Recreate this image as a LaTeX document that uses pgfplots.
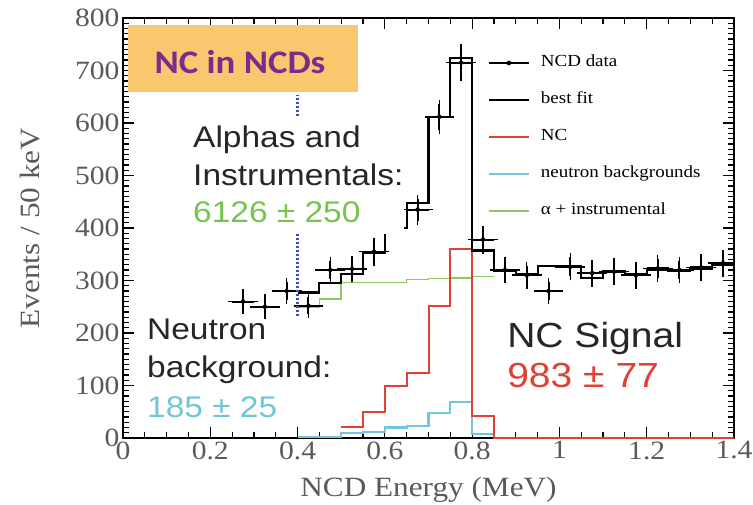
\documentclass[border=0pt]{standalone}
\usepackage{pgfplots}
\pgfplotsset{compat=1.18}
\usepackage{pgfplotstable}
\usepackage{fontspec}
\setmainfont{Liberation Serif}[FakeStretch=1.12]
\newfontfamily\sansfont{Liberation Sans}[FakeStretch=1.12]
\newfontfamily\calfont{Carlito}[FakeStretch=1.12]

\definecolor{ncred}{RGB}{226,64,52}
\definecolor{nccyan}{RGB}{110,200,215}
\definecolor{ncgreen}{RGB}{140,200,100}
\definecolor{txtgreen}{RGB}{120,195,80}
\definecolor{txtcyan}{RGB}{110,200,210}
\definecolor{ncblue}{RGB}{60,80,180}
\definecolor{ncpurple}{RGB}{128,40,140}
\definecolor{orangebox}{RGB}{249,200,110}
\definecolor{tickgray}{RGB}{90,90,90}

% NCD data: bin centre, counts, half bin width, error
\pgfplotstableread{
x     y   ex    ey
0.275 260 0.025 16
0.325 250 0.025 16
0.375 280 0.025 17
0.425 252 0.025 16
0.475 320 0.025 18
0.525 322 0.025 18
0.575 355 0.025 19
0.675 435 0.025 21
0.725 612 0.025 25
0.775 715 0.025 27
0.825 378 0.025 19
0.875 320 0.025 18
0.925 310 0.025 18
0.975 280 0.025 17
1.025 326 0.025 18
1.075 314 0.025 18
1.125 317 0.025 18
1.175 310 0.025 18
1.225 323 0.025 18
1.275 320 0.025 18
1.325 325 0.025 18
1.375 333 0.025 18
}\ncddata

% step histograms, left bin edges
\pgfplotstableread{
x    y
0.40 277
0.45 296
0.50 312
0.55 353
0.60 400
0.65 448
0.70 611
0.75 724
0.80 357
0.85 318
0.90 312
0.95 328
1.00 328
1.05 305
1.10 318
1.15 312
1.20 320
1.25 318
1.30 322
1.35 330
1.40 330
}\fitdata

\pgfplotstableread{
x    y
0.50 21
0.55 49
0.60 99
0.65 123
0.70 251
0.75 360
0.80 42
0.85 0
1.40 0
}\ncdata

\pgfplotstableread{
x    y
0.40 2
0.50 9
0.55 11
0.60 20
0.65 23
0.70 47
0.75 69
0.80 8
0.85 0
}\neutdata

\pgfplotstableread{
x    y
0.40 250
0.45 265
0.50 296
0.55 296
0.60 296
0.65 302
0.70 304
0.75 305
0.80 308
0.85 308
}\alphadata

\begin{document}
\begin{tikzpicture}
\useasboundingbox (-123bp,-67bp) rectangle (630bp,438bp);
\begin{axis}[
  width=611bp, height=420bp, scale only axis,
  xmin=0, xmax=1.4, ymin=0, ymax=800,
  xtick={0,0.2,...,1.4}, ytick={0,100,...,800},
  minor x tick num=3, minor y tick num=9,
  tick align=inside,
  major tick length=11bp, minor tick length=6bp,
  axis line style={line width=2.5bp},
  tick style={line width=1.2bp, black},
  xticklabel={\pgfmathprintnumber[assume math mode=true]{\tick}},
  yticklabel={\pgfmathprintnumber[assume math mode=true]{\tick}},
  tick label style={font=\rmfamily\fontsize{26.5}{30}\selectfont, text=tickgray},
  label style={font=\rmfamily\fontsize{28}{32}\selectfont, text=tickgray},
  xlabel={NCD Energy (MeV)}, ylabel={Events / 50 keV},
  xlabel style={at={(axis description cs:0.5,-0.124)}, anchor=center},
  ylabel style={at={(axis description cs:-0.152,0.5)}, anchor=center},
  legend image code/.code={\draw[#1] (0bp,0bp) -- (40bp,0bp);},
  legend style={draw=none, fill=none, at={(0.597,0.912)}, anchor=north west,
    inner sep=0pt, outer sep=0pt, row sep=21bp,
    font=\rmfamily\fontsize{17}{20}\selectfont,
    nodes={inner sep=0pt, text height=12bp, text depth=4bp},
    /tikz/every odd column/.append style={column sep=11bp}},
  legend cell align=left,
]
\addplot[ncgreen, line width=1.5bp, const plot, forget plot] table {\alphadata};
\addplot[nccyan, line width=2.2bp, const plot, forget plot] table {\neutdata};
\addplot[ncred, line width=2bp, const plot, forget plot] table {\ncdata};
\addplot[black, line width=2.2bp, const plot, forget plot] table {\fitdata};
\addplot[black, only marks, mark=none, forget plot,
  error bars/.cd, x dir=both, x explicit, y dir=both, y explicit,
  error bar style={line width=2bp, black},
  error mark options={line width=1.6bp, black, mark size=4bp}]
  table[x=x, y=y, x error=ex, y error=ey] {\ncddata};

% annotations
\fill[orangebox] (axis cs:0.011,659) rectangle (axis cs:0.538,787);
\node[anchor=base, inner sep=0pt, text=ncpurple,
  font=\calfont\bfseries\fontsize{33}{40}\selectfont] at (axis cs:0.268,695) {NC in NCDs};
\draw[ncblue, line width=2.2bp, dash pattern=on 2.5bp off 1.5bp] (axis cs:0.4,232) -- (axis cs:0.4,653);
\fill[white] (axis cs:0.155,388) rectangle (axis cs:0.645,611);
\begin{scope}[every node/.style={anchor=base west, inner sep=0pt, font=\sansfont\fontsize{30}{36}\selectfont}]
\node[text=black!85] at (axis cs:0.1604,552.4) {Alphas and};
\node[text=black!85] at (axis cs:0.1604,481.9) {Instrumentals:};
\node[text=txtgreen] at (axis cs:0.1604,411.4) {6126 ± 250};
\node[text=black!85] at (axis cs:0.055,186.7) {Neutron};
\node[text=black!85] at (axis cs:0.055,114.3) {background:};
\node[text=txtcyan] at (axis cs:0.055,40) {185 ± 25};
\node[text=black!85, font=\sansfont\fontsize{35}{40}\selectfont] at (axis cs:0.880,173.3) {NC Signal};
\node[text=ncred, font=\sansfont\fontsize{35}{40}\selectfont] at (axis cs:0.880,97.1) {983 ± 77};
\end{scope}

\addlegendimage{legend image code/.code={\draw[black, line width=1.8bp] (0bp,0bp) -- (40bp,0bp); \fill[black] (20bp,0bp) circle (2.2bp);}}
\addlegendentry{NCD data}
\addlegendimage{black, line width=2.2bp}
\addlegendentry{best fit}
\addlegendimage{ncred, line width=2.2bp}
\addlegendentry{NC}
\addlegendimage{nccyan, line width=2.2bp}
\addlegendentry{neutron backgrounds}
\addlegendimage{ncgreen, line width=2.2bp}
\addlegendentry{α + instrumental}
\end{axis}
\end{tikzpicture}
\end{document}
